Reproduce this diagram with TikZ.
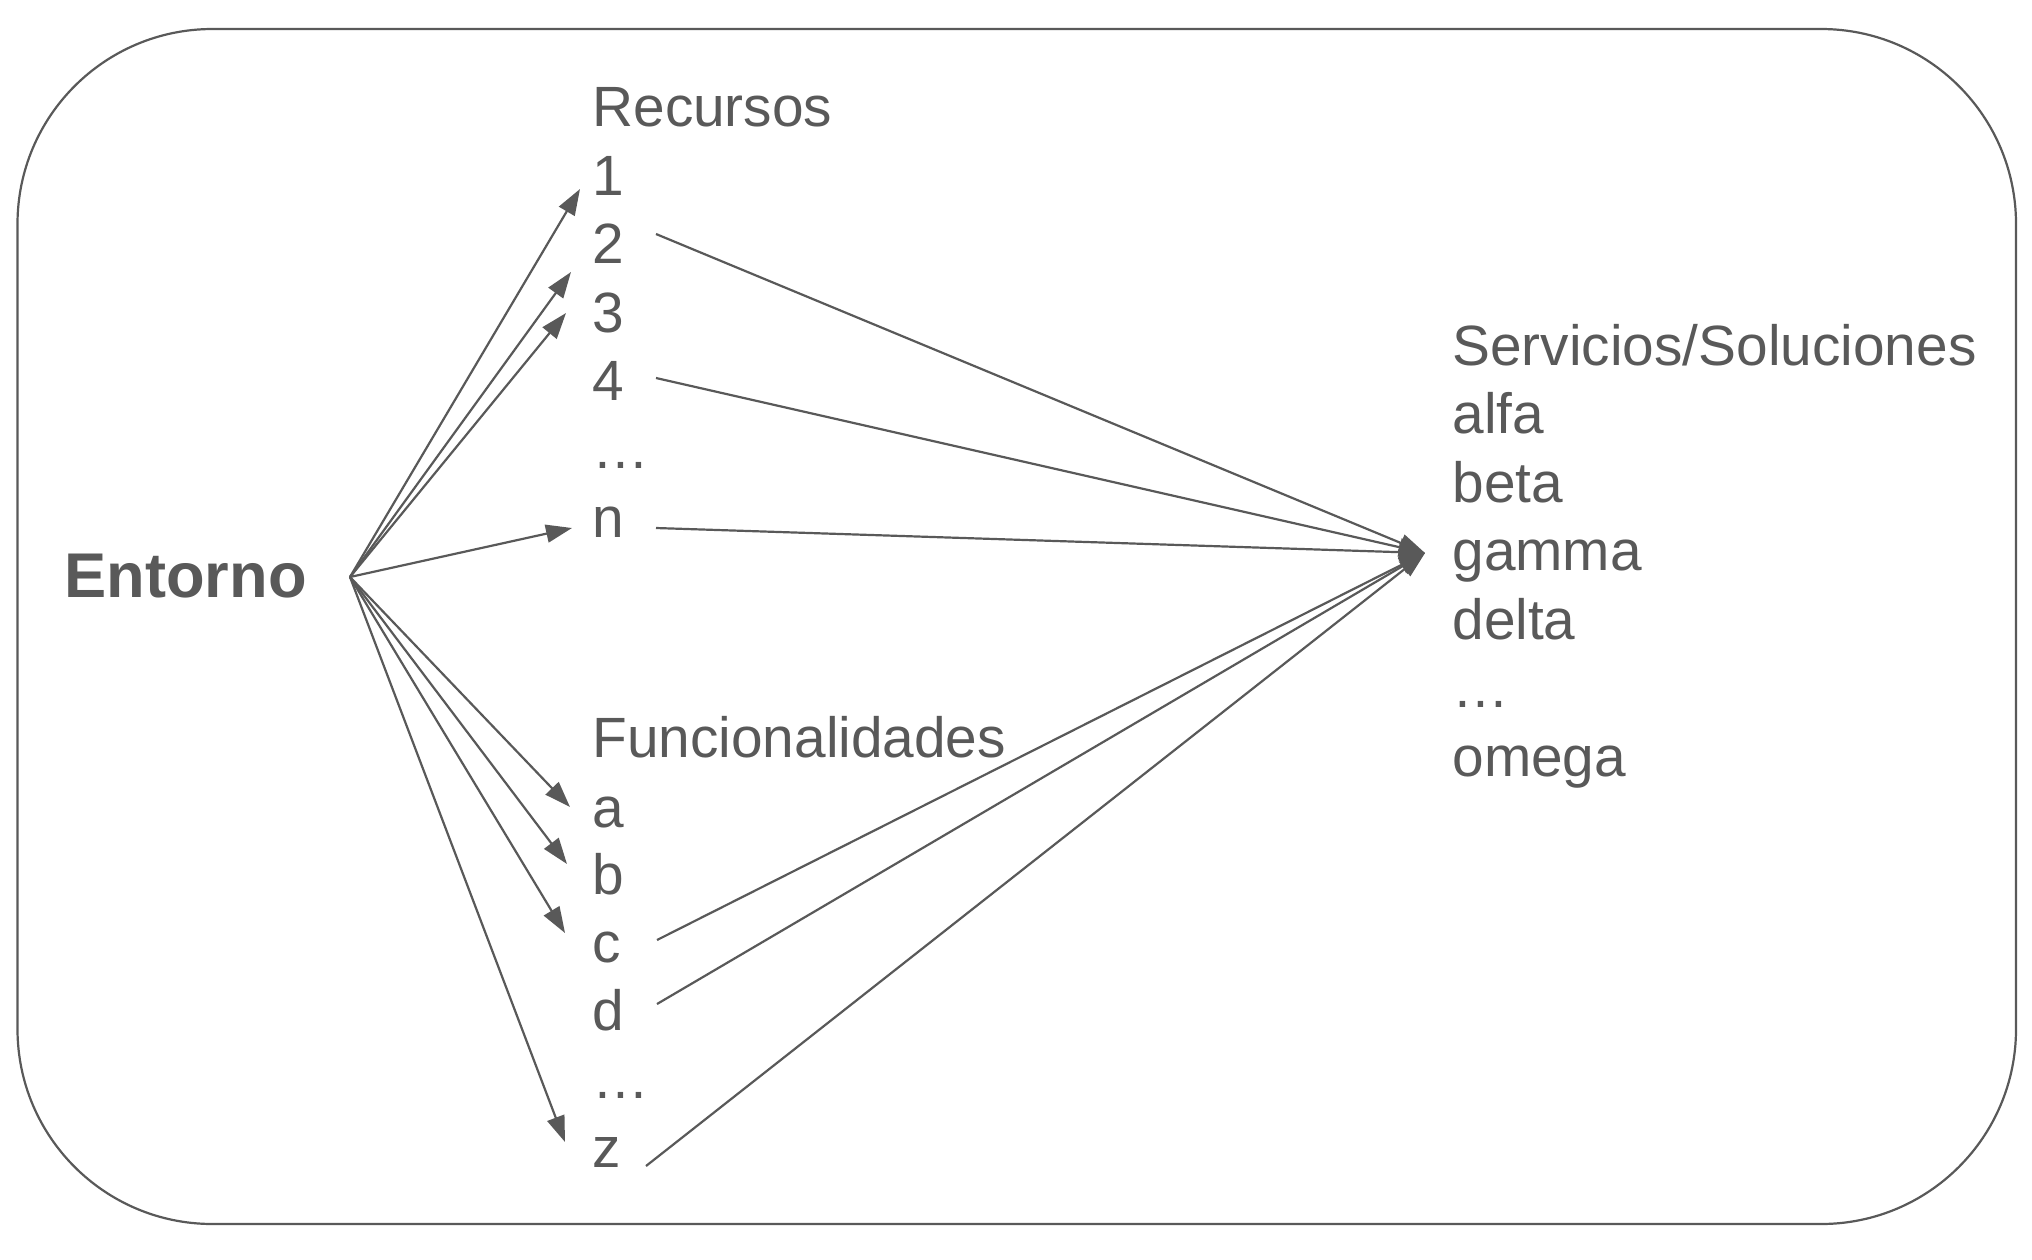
\documentclass[tikz,border=0pt]{standalone}
\usepackage{fontspec}
\setmainfont{Liberation Sans}
\usetikzlibrary{arrows.meta}
\definecolor{ink}{HTML}{595959}
\begin{document}
\begin{tikzpicture}[x=0.5pt,y=-0.5pt,
  item/.style={anchor=base west,inner sep=0pt,text=ink,font=\fontsize{28.4}{33}\selectfont},
  head/.style={anchor=base west,inner sep=0pt,text=ink,font=\fontsize{31.6}{36}\selectfont\bfseries},
  conn/.style={draw=ink,line width=1.1pt,-{Triangle[length=13pt,width=9pt]}},
  box/.style={draw=ink,line width=1.1pt}]
\useasboundingbox (0,0) rectangle (2032,1259);
\draw[box,rounded corners=97.5pt] (17.5,29) rectangle (2016,1224);

% Entorno
\node[head] (ent) at (64,597) {Entorno};
\coordinate (src) at (350,577);

% Recursos column
\node[item] (rec) at (592,126) {Recursos};
\node[item] (r1) at (592,195) {1};
\node[item] (r2) at (592,263) {2};
\node[item] (r3) at (592,332) {3};
\node[item] (r4) at (592,400) {4};
\node[item] (rdots) at (592,468) {\ldots};
\node[item] (rn) at (592,537) {n};

% Funcionalidades column
\node[item] (fun) at (592,757) {Funcionalidades};
\node[item] (fa) at (592,827) {a};
\node[item] (fb) at (592,894) {b};
\node[item] (fc) at (592,962) {c};
\node[item] (fd) at (592,1030) {d};
\node[item] (fdots) at (592,1098) {\ldots};
\node[item] (fz) at (592,1167) {z};

% Servicios column
\node[item] (ser) at (1452,365) {Servicios/Soluciones};
\node[item] (salfa) at (1452,433) {alfa};
\node[item] (sbeta) at (1452,502) {beta};
\node[item] (sgamma) at (1452,570) {gamma};
\node[item] (sdelta) at (1452,639) {delta};
\node[item] (sdots) at (1452,707) {\ldots};
\node[item] (somega) at (1452,776) {omega};

% arrow tips from Entorno
\coordinate (t1) at (580,189);
\coordinate (t2) at (571,272);
\coordinate (t3) at (566,313);
\coordinate (tn) at (572,528);
\coordinate (ta) at (570,807);
\coordinate (tb) at (567,864);
\coordinate (tc) at (565,933);
\coordinate (tz) at (565,1142);

\foreach \t in {t1,t2,t3,tn,ta,tb,tc,tz}
  \draw[conn] (src) -- (\t);

% lines to Servicios
\coordinate (conv) at (1425,553);
\coordinate (s2) at (656,234);
\coordinate (s4) at (656,378);
\coordinate (sn) at (656,528);
\coordinate (sc) at (657,940);
\coordinate (sd) at (657,1004);
\coordinate (sz) at (646,1166);

\foreach \s in {s2,s4,sn,sc,sd,sz}
  \draw[conn] (\s) -- (conv);
\end{tikzpicture}
\end{document}
